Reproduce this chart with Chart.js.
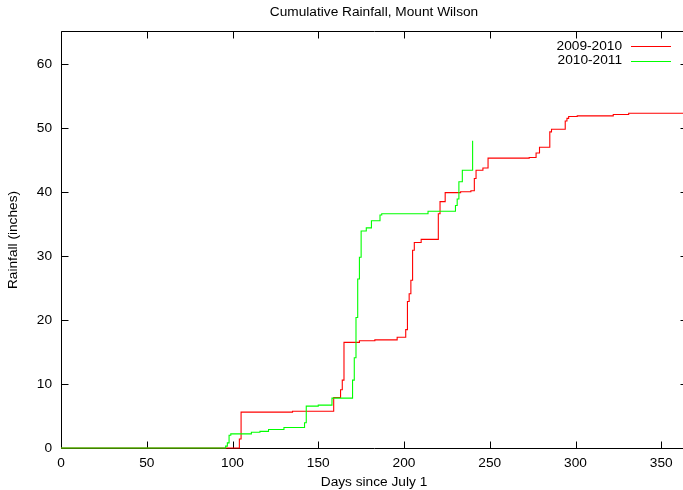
<!DOCTYPE html>
<html lang="en">
<head>
    <meta charset="UTF-8">
    <title>Cumulative Rainfall, Mount Wilson</title>
    <style>
        body {
            margin: 0;
            background: #fff;
            overflow: hidden;
        }
        #chart {
            display: block;
        }
    </style>
</head>
<body>
    <canvas id="chart" width="687" height="490"></canvas>
    <script src="https://cdn.jsdelivr.net/npm/chart.js"></script>
    <script>
        // rain totals: day since July 1 -> cumulative inches
        const days0910 = [0, 104, 105, 135, 159, 163, 164, 165, 174, 183, 196, 201, 202, 203, 204, 205, 206, 210,
                          220, 221, 224, 233, 239, 241, 242, 246, 249, 273, 277, 279, 285, 286, 294, 295, 296, 301, 322, 331, 365];
        const rain0910 = [0, 1.4, 5.6, 5.75, 7.9, 9.1, 10.6, 16.5, 16.75, 16.9, 17.3, 18.5, 22.9, 24.1, 26.2, 30.9, 32.1, 32.6,
                          36.6, 38.5, 39.9, 40.05, 40.2, 42.1, 43.4, 43.75, 45.3, 45.4, 46.1, 47.0, 49.4, 49.8, 51.1, 51.5, 51.8, 51.9, 52.1, 52.3, 52.3];

        const days1011 = [0, 96, 97, 98, 99, 111, 116, 121, 130, 142, 143, 150, 158, 170, 171, 172, 173, 174, 175,
                          178, 181, 186, 187, 214, 230, 231, 232, 234, 240];
        const rain1011 = [0, 0.3, 0.8, 2.0, 2.2, 2.45, 2.6, 2.9, 3.2, 3.95, 6.55, 6.7, 7.8, 10.6, 14.1, 20.4, 26.4, 29.8, 33.9,
                          34.4, 35.5, 36.4, 36.6, 37.0, 37.9, 38.9, 41.6, 43.4, 48.0];

        const seasons = ['2009-2010', '2010-2011'];
        const xTicks = [0, 50, 100, 150, 200, 250, 300, 350];
        const yTicks = [0, 10, 20, 30, 40, 50, 60];

        const FONT = '"Liberation Sans", Arial, sans-serif';
        const toPoints = (xs, ys) => xs.map((d, i) => ({ x: d, y: ys[i] }));

        // gnuplot style box with inward ticks on all four sides
        const frame = {
            id: 'frame',
            beforeDatasetsDraw(chart) {
                const { ctx, chartArea: a, scales } = chart;
                const L = Math.round(a.left) + 0.5, R = Math.round(a.right) + 0.5;
                const T = Math.round(a.top) - 0.5, B = Math.round(a.bottom) + 0.5;
                ctx.save();
                ctx.strokeStyle = '#000';
                ctx.lineWidth = 1;
                ctx.beginPath();
                ctx.rect(L, T, R - L, B - T);
                xTicks.forEach(v => {
                    const x = Math.round(scales.x.getPixelForValue(v)) + 0.5;
                    ctx.moveTo(x, B); ctx.lineTo(x, B - 7);
                    ctx.moveTo(x, T); ctx.lineTo(x, T + 7);
                });
                yTicks.forEach(v => {
                    const y = Math.round(scales.y.getPixelForValue(v)) + 0.5;
                    ctx.moveTo(L, y); ctx.lineTo(L + 7, y);
                    ctx.moveTo(R, y); ctx.lineTo(R - 7, y);
                });
                ctx.stroke();
                ctx.restore();
            },
            afterDraw(chart) {
                const { ctx, chartArea: a } = chart;
                ctx.save();
                ctx.fillStyle = '#000';
                ctx.font = '13.7px ' + FONT;
                ctx.textBaseline = 'middle';
                ctx.textAlign = 'center';
                ctx.fillText('Cumulative Rainfall, Mount Wilson', (a.left + a.right) / 2, 12.5);

                // legend, top right
                ctx.textAlign = 'right';
                chart.data.datasets.forEach((ds, i) => {
                    const y = 46 + i * 14.5;
                    ctx.fillStyle = '#000';
                    ctx.fillText(ds.label, 622, y);
                    ctx.strokeStyle = ds.borderColor;
                    ctx.lineWidth = 1;
                    ctx.beginPath();
                    ctx.moveTo(631, Math.round(y) + 0.5);
                    ctx.lineTo(671, Math.round(y) + 0.5);
                    ctx.stroke();
                });
                ctx.restore();
            }
        };

        const setTicks = list => scale => {
            scale.ticks = list.map(v => ({ value: v }));
        };

        new Chart(document.getElementById('chart'), {
            type: 'line',
            data: {
                datasets: [
                    {
                        label: seasons[0],
                        data: toPoints(days0910, rain0910),
                        borderColor: '#ff0000',
                        borderWidth: 1.1,
                        stepped: 'before',
                        pointRadius: 0,
                        clip: 3,
                        order: 1
                    },
                    {
                        label: seasons[1],
                        data: toPoints(days1011, rain1011),
                        borderColor: '#00ff00',
                        borderWidth: 1.1,
                        stepped: 'before',
                        pointRadius: 0,
                        clip: 3,
                        order: 0
                    }
                ]
            },
            options: {
                responsive: false,
                animation: false,
                layout: { padding: { top: 32, left: 0, right: 0, bottom: 0 } },
                plugins: {
                    legend: { display: false },
                    title: { display: false },
                    tooltip: { enabled: false }
                },
                scales: {
                    x: {
                        type: 'linear',
                        min: 0,
                        max: 365,
                        afterFit: s => { s.height = 42; },
                        afterBuildTicks: setTicks(xTicks),
                        grid: { display: false, drawTicks: false },
                        border: { display: false },
                        ticks: {
                            autoSkip: false,
                            maxRotation: 0,
                            padding: 7,
                            color: '#000',
                            font: { family: FONT, size: 13.7 }
                        },
                        title: {
                            display: true,
                            text: 'Days since July 1',
                            color: '#000',
                            font: { family: FONT, size: 13.7 },
                            padding: { top: 0, bottom: 0 }
                        }
                    },
                    y: {
                        min: 0,
                        max: 65,
                        afterFit: s => { s.width = 61; },
                        afterBuildTicks: setTicks(yTicks),
                        grid: { display: false, drawTicks: false },
                        border: { display: false },
                        ticks: {
                            padding: 9,
                            color: '#000',
                            font: { family: FONT, size: 13.7 }
                        },
                        title: {
                            display: true,
                            text: 'Rainfall (inches)',
                            color: '#000',
                            font: { family: FONT, size: 13.7 },
                            padding: { top: 5, bottom: 0 }
                        }
                    }
                }
            },
            plugins: [frame]
        });
    </script>
</body>
</html>
